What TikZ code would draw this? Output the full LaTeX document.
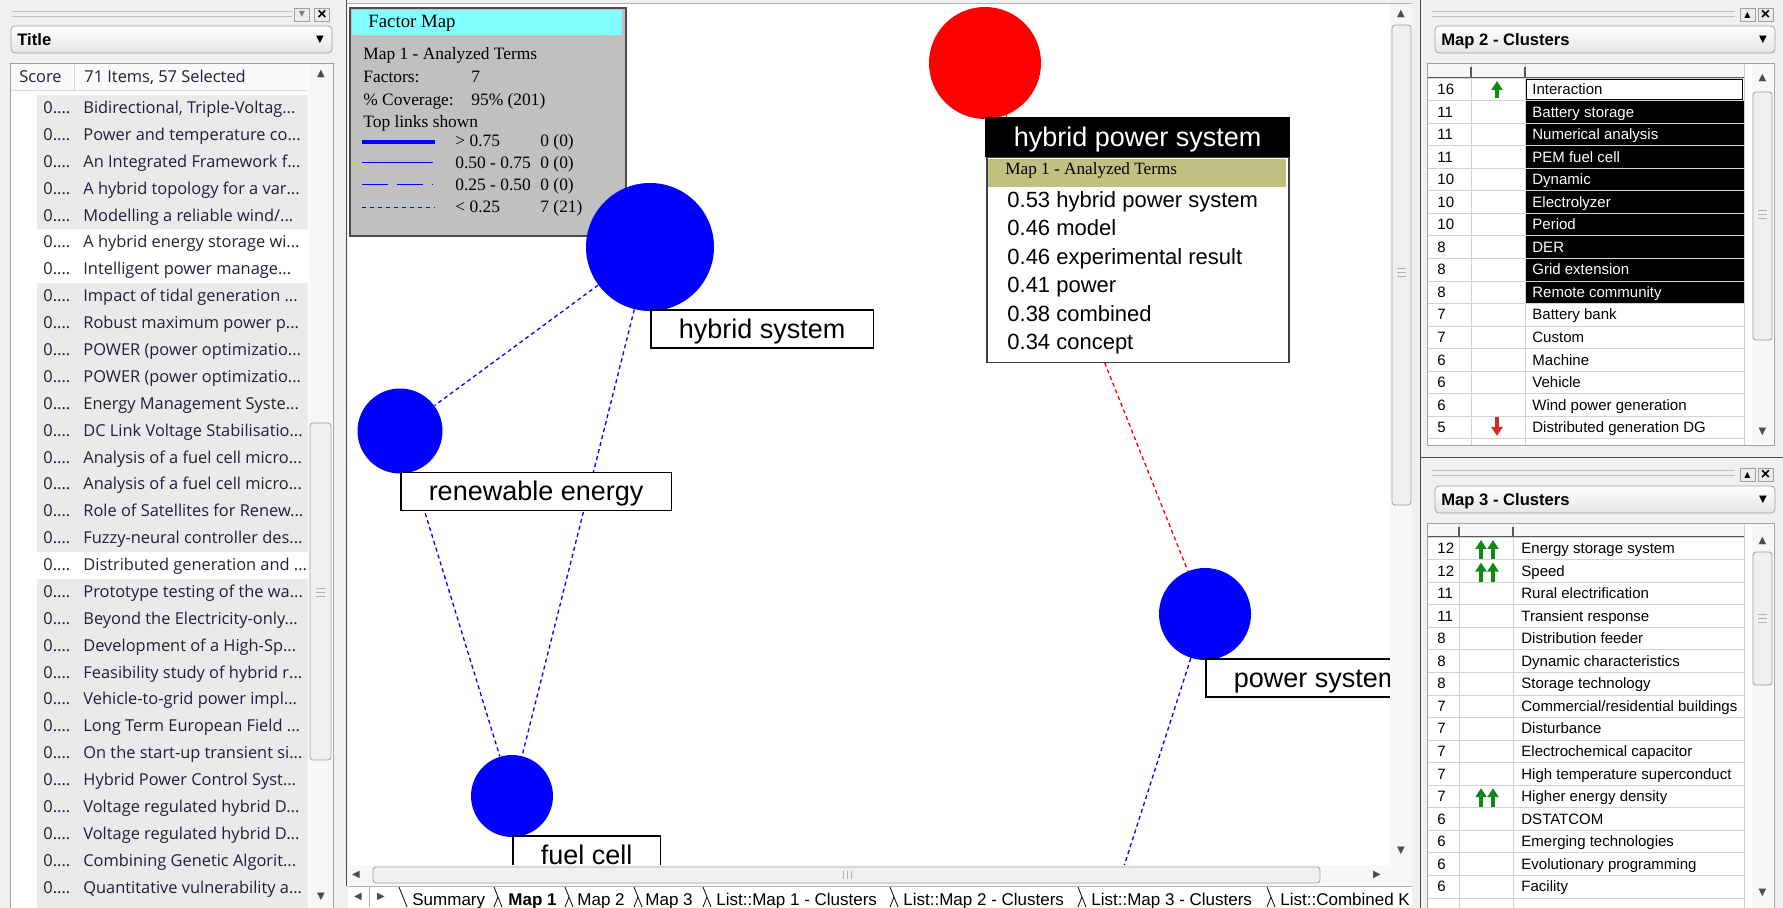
\documentclass[tikz,border=0pt]{standalone}
\usepackage{fontspec}
\setmainfont{Liberation Serif}
\newfontfamily\uifont{Open Sans}
\newfontfamily\arialfont{Liberation Sans}
\newfontfamily\glyphfont{DejaVu Sans}
\usetikzlibrary{arrows.meta}

\definecolor{winbg}{HTML}{F0F0F0}
\definecolor{rowgray}{HTML}{EAEAEA}
\definecolor{legbg}{HTML}{C0C0C0}
\definecolor{legtitle}{HTML}{80FFFF}
\definecolor{popolive}{HTML}{C0C080}
\definecolor{mapblue}{HTML}{0000FF}
\definecolor{mapred}{HTML}{FF0000}
\definecolor{upgreen}{HTML}{0E8A16}
\definecolor{downred}{HTML}{D42A2A}
\definecolor{listink}{HTML}{20203A}
\definecolor{edgegray}{HTML}{A0A0A0}

\newcommand{\titlecut}{...}

\tikzset{
  listtxt/.style={anchor=base west,inner sep=0pt,text=listink,font=\uifont\fontsize{8.2}{9}\selectfont},
  celltxt/.style={anchor=base west,inner sep=0pt,font=\arialfont\fontsize{7.5}{8}\selectfont},
  combotxt/.style={anchor=base west,inner sep=0pt,font=\arialfont\bfseries\fontsize{8.3}{9}\selectfont},
  tabtxt/.style={anchor=base west,inner sep=0pt,font=\arialfont\fontsize{8.5}{9}\selectfont},
  legtxt/.style={anchor=base west,inner sep=0pt,font=\fontsize{8.7}{9}\selectfont},
  symtxt/.style={inner sep=0pt,text=black!70,font=\glyphfont\fontsize{5}{5}\selectfont},
  winbtn/.style={draw=edgegray,fill=white!85!gray,minimum width=7.5pt,minimum height=6.5pt,inner sep=0pt},
  combo/.style={draw=edgegray,rounded corners=2pt,top color=white,bottom color=gray!20,minimum width=170pt,minimum height=13.5pt,inner sep=0pt},
  thumb/.style={draw=edgegray,fill=gray!12,rounded corners=1.5pt},
  factor/.style={circle,fill=mapblue,inner sep=0pt,minimum size=#1},
  termbox/.style={draw=black,line width=0.75pt,fill=white,anchor=north west,inner xsep=14pt,inner ysep=2pt,text height=12pt,text depth=3pt,font=\arialfont\fontsize{13.5}{15}\selectfont},
  poptxt/.style={anchor=base west,inner sep=0pt,font=\arialfont\fontsize{11}{12}\selectfont},
  weaklink/.style={mapblue,line width=0.65pt,dash pattern=on 2pt off 1.6pt},
  uparrow/.style={upgreen,line width=2pt,-{Triangle[width=5.5pt,length=4.5pt]}},
}

\begin{document}
\begin{tikzpicture}[x=0.5pt,y=-0.5pt]
\useasboundingbox (0,0) rectangle (1783,908);
\fill[winbg] (0,0) rectangle (1783,908);

% ---- left panel: titles
\draw[gray!50] (12,11) -- (292,11) (12,16) -- (292,16);
\node[winbtn] (lpin) at (302,14.5) {\glyphfont\fontsize{4}{4}\selectfont\color{gray}▼};
\node[winbtn] (lclose) at (322,14.5) {\arialfont\bfseries\fontsize{8}{8}\selectfont ×};
\node[combo,minimum width=160.5pt] (lcombo) at (171.5,39.5) {};
\node[combotxt] (lcombotxt) at (17,45.5) {Title};
\node[symtxt,text=black] (lcomboarr) at (320,40) {▼};
\draw[edgegray,fill=white] (10,63) rectangle (333,915);
\fill[gray!4] (11,64) rectangle (308,90);
\draw[gray!30] (11,90) -- (308,90) (74,64) -- (74,90);
\node[listtxt] (hscore) at (19,83) {Score};
\node[listtxt] (hitems) at (84,83) {71 Items, 57 Selected};
\fill[rowgray] (37,95) rectangle (308,908);
\fill[white] (37,229.3) rectangle (308,283.1) (37,551.9) rectangle (308,578.8);
\foreach \t [count=\i from 0] in {{Bidirectional, Triple-Voltag\titlecut}, Power and temperature co\titlecut, An Integrated Framework f\titlecut, A hybrid topology for a var\titlecut, {Modelling a reliable wind/\titlecut}, A hybrid energy storage wi\titlecut, Intelligent power manage\titlecut, Impact of tidal generation \titlecut, Robust maximum power p\titlecut, POWER (power optimizatio\titlecut, POWER (power optimizatio\titlecut, Energy Management Syste\titlecut, DC Link Voltage Stabilisatio\titlecut, Analysis of a fuel cell micro\titlecut, Analysis of a fuel cell micro\titlecut, Role of Satellites for Renew\titlecut, Fuzzy-neural controller des\titlecut, Distributed generation and \titlecut, Prototype testing of the wa\titlecut, Beyond the Electricity-only\titlecut, Development of a High-Sp\titlecut, Feasibility study of hybrid r\titlecut, Vehicle-to-grid power impl\titlecut, Long Term European Field \titlecut, On the start-up transient si\titlecut, Hybrid Power Control Syst\titlecut, Voltage regulated hybrid D\titlecut, Voltage regulated hybrid D\titlecut, Combining Genetic Algorit\titlecut, Quantitative vulnerability a\titlecut}{
  \node[listtxt] (score\i) at (43,113.6+26.88*\i) {0....};
  \node[listtxt] (title\i) at (83,113.6+26.88*\i) {\t};
}
\fill[gray!6] (309,64) rectangle (332,908);
\node[symtxt] (lup) at (321,74) {▲};
\draw[thumb] (310,423) rectangle (331,760);
\draw[gray!60] (316,588) -- (325,588) (316,592) -- (325,592) (316,596) -- (325,596);
\node[symtxt] (ldown) at (321,897) {▼};

% ---- centre: factor map
\draw[gray!60!black] (346.5,0) -- (346.5,886);
\draw[gray!60] (347,3.5) -- (1412,3.5);
\fill[white] (348,4) rectangle (1390,865);
\begin{scope}
\clip (348,4) rectangle (1390,865);
% legend
\node[draw=gray!60!black,line width=0.8pt,fill=legbg,anchor=north west,minimum width=138pt,minimum height=113.75pt,inner sep=0pt] (legend) at (349,7.5) {};
\node[fill=legtitle,anchor=north west,minimum width=135pt,minimum height=12.5pt,inner sep=0pt] (legbar) at (352,10) {};
\node[legtxt,font=\fontsize{9.4}{10}\selectfont] (legname) at (368,28) {Factor Map};
\node[legtxt] (legmap) at (363,60) {Map 1 - Analyzed Terms};
\node[legtxt] (legfac) at (363,83) {Factors:};
\node[legtxt] (legfacv) at (471,83) {7};
\node[legtxt] (legcov) at (363,106) {\% Coverage:};
\node[legtxt] (legcovv) at (471,106) {95\% (201)};
\node[legtxt] (legtop) at (363,128) {Top links shown};
\foreach \r/\c [count=\i from 0] in {> 0.75/0 (0), 0.50 - 0.75/0 (0), 0.25 - 0.50/0 (0), < 0.25/7 (21)}{
  \node[legtxt] (legr\i) at (455,147+22*\i) {\r};
  \node[legtxt] (legc\i) at (540,147+22*\i) {\c};
}
\draw[mapblue,line width=1.75pt] (362,142) -- (435,142);
\draw[mapblue,line width=0.5pt] (362,163) -- (433,163);
\draw[mapblue,line width=0.5pt,dash pattern=on 13pt off 4.5pt] (362,185) -- (433,185);
\draw[mapblue,line width=0.5pt,dash pattern=on 2pt off 2pt] (362,208) -- (435,208);

% factors
\node[factor=56pt,fill=mapred] (hps) at (985,63) {};
\node[factor=64pt] (hs) at (650,247) {};
\node[factor=42.5pt] (re) at (400,431) {};
\node[factor=41pt] (fc) at (512,796) {};
\node[factor=46pt] (ps) at (1205,614) {};
\coordinate (offmap) at (1081,1000);

% links
\draw[weaklink] (hs) -- (re);
\draw[weaklink] (hs) -- (fc);
\draw[weaklink] (re) -- (fc);
\draw[weaklink] (ps) -- (offmap);
\draw[weaklink,mapred] (hps) -- (ps);

% labels
\node[termbox] (hsl) at ([yshift=1pt]hs.south) {hybrid system};
\node[termbox] (rel) at ([yshift=1pt]re.south) {renewable energy};
\node[termbox] (fcl) at ([yshift=1pt]fc.south) {fuel cell};
\node[termbox] (psl) at ([yshift=1pt]ps.south) {power system};
\node[termbox,fill=black,text=white] (hpsl) at ([yshift=1pt]hps.south) {hybrid power system};

% popup of the selected factor
\node[draw=gray!50!black,line width=0.8pt,fill=white,anchor=north west,minimum width=151pt,minimum height=102.5pt,inner sep=0pt] (pop) at ([xshift=0.5pt]hpsl.south west) {};
\node[fill=popolive,anchor=north west,minimum width=149pt,minimum height=14pt,inner sep=0pt] (pophead) at ([shift={(1pt,-1pt)}]pop.north west) {};
\node[legtxt,font=\fontsize{8.6}{9}\selectfont] (popname) at (1005,175) {Map 1 - Analyzed Terms};
\foreach \t [count=\i from 0] in {0.53 hybrid power system, 0.46 model, 0.46 experimental result, 0.41 power, 0.38 combined, 0.34 concept}
  \node[poptxt] (popterm\i) at (1007,207.5+28.4*\i) {\t};
\end{scope}

% scroll bars of the map
\fill[gray!6] (1390,4) rectangle (1412,865);
\node[symtxt] (vup) at (1401,14) {▲};
\draw[thumb] (1392,25) rectangle (1411,505);
\draw[gray!60] (1397,268) -- (1406,268) (1397,272) -- (1406,272) (1397,276) -- (1406,276);
\node[symtxt] (vdown) at (1401,851) {▼};
\fill[gray!6] (348,865) rectangle (1412,886);
\node[symtxt] (hleft) at (356,875) {◀};
\draw[thumb] (373,867) rectangle (1320,883);
\draw[gray!60] (843,871) -- (843,879) (847,871) -- (847,879) (851,871) -- (851,879);
\node[symtxt] (hright) at (1377,875) {▶};

% tabs
\fill[white] (348,886) rectangle (1412,908);
\draw[gray!60] (348,886) -- (1412,886);
\node[symtxt] (tprev) at (358,897) {◀};
\node[symtxt] (tnext) at (381,897) {▶};
\draw[gray!60] (369.5,887) -- (369.5,907);
\begin{scope}
\clip (348,886) rectangle (1412,908);
\foreach \x/\t [count=\i] in {412/Summary, 577/Map 2, 645/Map 3, 716/List::Map 1 - Clusters, 903/List::Map 2 - Clusters, 1091/List::Map 3 - Clusters, 1280/List::Combined K}
  \node[tabtxt] (tab\i) at (\x,905) {\t};
\node[tabtxt,font=\arialfont\bfseries\fontsize{8.5}{9}\selectfont] (tabmap) at (508,905) {Map 1};
\draw (399,887) -- (407,907);
\foreach \b in {498,569,638,707,894,1082,1271}
  \draw (\b-4,887) -- (\b+4,907) (\b-4,907) -- (\b,897);
\end{scope}

% ---- right panels: cluster lists
\draw[gray!60!black] (1420.5,0) -- (1420.5,908);
\draw[gray!60!black] (1421,457) -- (1783,457);

% Map 2
\draw[gray!50] (1432,11) -- (1735,11) (1432,16) -- (1735,16);
\node[winbtn] (mtwopin) at (1747.5,15) {\glyphfont\fontsize{4}{4}\selectfont ▲};
\node[winbtn] (mtwoclose) at (1765.5,15) {\arialfont\bfseries\fontsize{8}{8}\selectfont ×};
\node[combo] (mtwocombo) at (1605,39.5) {};
\node[combotxt] (mtwoname) at (1441,45.5) {Map 2 - Clusters};
\node[symtxt,text=black] (mtwoarr) at (1763,40) {▼};
\draw[edgegray,fill=white] (1427,63) rectangle (1774,445);
\fill[gray!6] (1428,64) rectangle (1744,77);
\fill[black] (1525,100.55) rectangle (1744,303.5);
\foreach \i in {0,...,16}
  \draw[gray!35] (1428,78+22.55*\i) -- (1744,78+22.55*\i);
\draw[gray!35] (1471,64) -- (1471,445) (1525,64) -- (1525,445) (1744,64) -- (1744,445);
\draw[gray!70!black,line width=0.8pt] (1428,77.5) -- (1744,77.5) (1471,67) -- (1471,77) (1525,67) -- (1525,77);
\foreach \n/\t/\c [count=\i from 0] in {16/Interaction/black, 11/Battery storage/white, 11/Numerical analysis/white, 11/PEM fuel cell/white, 10/Dynamic/white, 10/Electrolyzer/white, 10/Period/white, 8/DER/white, 8/Grid extension/white, 8/Remote community/white, 7/Battery bank/black, 7/Custom/black, 6/Machine/black, 6/Vehicle/black, 6/Wind power generation/black, 5/Distributed generation DG/black}{
  \node[celltxt] (mtwon\i) at (1437,94.5+22.55*\i) {\n};
  \node[celltxt,text=\c] (mtwot\i) at (1532,94.5+22.55*\i) {\t};
}
\draw[black] (1526.5,79.5) rectangle (1742.5,99.5);
\draw[uparrow] (1497,98) -- (1497,81);
\draw[uparrow,downred] (1497,417) -- (1497,436);
\fill[gray!6] (1752,64) rectangle (1773,444);
\node[symtxt] (mtwoup) at (1762.5,78) {▲};
\draw[thumb] (1753,92) rectangle (1772,340);
\draw[gray!60] (1758,210) -- (1767,210) (1758,214) -- (1767,214) (1758,218) -- (1767,218);
\node[symtxt] (mtwodown) at (1762.5,432) {▼};

% Map 3
\draw[gray!50] (1432,470) -- (1735,470) (1432,475) -- (1735,475);
\node[winbtn] (mthreepin) at (1747.5,475) {\glyphfont\fontsize{4}{4}\selectfont ▲};
\node[winbtn] (mthreeclose) at (1765.5,475) {\arialfont\bfseries\fontsize{8}{8}\selectfont ×};
\node[combo] (mthreecombo) at (1605,499.5) {};
\node[combotxt] (mthreename) at (1441,505.5) {Map 3 - Clusters};
\node[symtxt,text=black] (mthreearr) at (1763,500) {▼};
\draw[edgegray,fill=white] (1427,523) rectangle (1774,915);
\fill[gray!6] (1428,524) rectangle (1744,536);
\foreach \i in {0,...,16}
  \draw[gray!35] (1428,537+22.56*\i) -- (1744,537+22.56*\i);
\draw[gray!35] (1459,524) -- (1459,908) (1513,524) -- (1513,908) (1744,524) -- (1744,908);
\draw[gray!70!black,line width=0.8pt] (1428,536.5) -- (1744,536.5) (1459,527) -- (1459,536) (1513,527) -- (1513,536);
\foreach \n/\t [count=\i from 0] in {12/Energy storage system, 12/Speed, 11/Rural electrification, 11/Transient response, 8/Distribution feeder, 8/Dynamic characteristics, 8/Storage technology, 7/{Commercial/residential buildings}, 7/Disturbance, 7/Electrochemical capacitor, 7/High temperature superconduct, 7/Higher energy density, 6/DSTATCOM, 6/Emerging technologies, 6/Evolutionary programming, 6/Facility}{
  \node[celltxt] (mthreen\i) at (1437,553.5+22.56*\i) {\n};
  \node[celltxt] (mthreet\i) at (1521,553.5+22.56*\i) {\t};
}
\foreach \r in {0,1,11}{
  \draw[uparrow] (1481,559+22.56*\r) -- (1481,540+22.56*\r);
  \draw[uparrow] (1493,559+22.56*\r) -- (1493,540+22.56*\r);
}
\fill[gray!6] (1752,524) rectangle (1773,908);
\node[symtxt] (mthreeup) at (1762.5,541) {▲};
\draw[thumb] (1753,552) rectangle (1772,685);
\draw[gray!60] (1758,614) -- (1767,614) (1758,618) -- (1767,618) (1758,622) -- (1767,622);
\node[symtxt] (mthreedown) at (1762.5,893) {▼};
\end{tikzpicture}
\end{document}
